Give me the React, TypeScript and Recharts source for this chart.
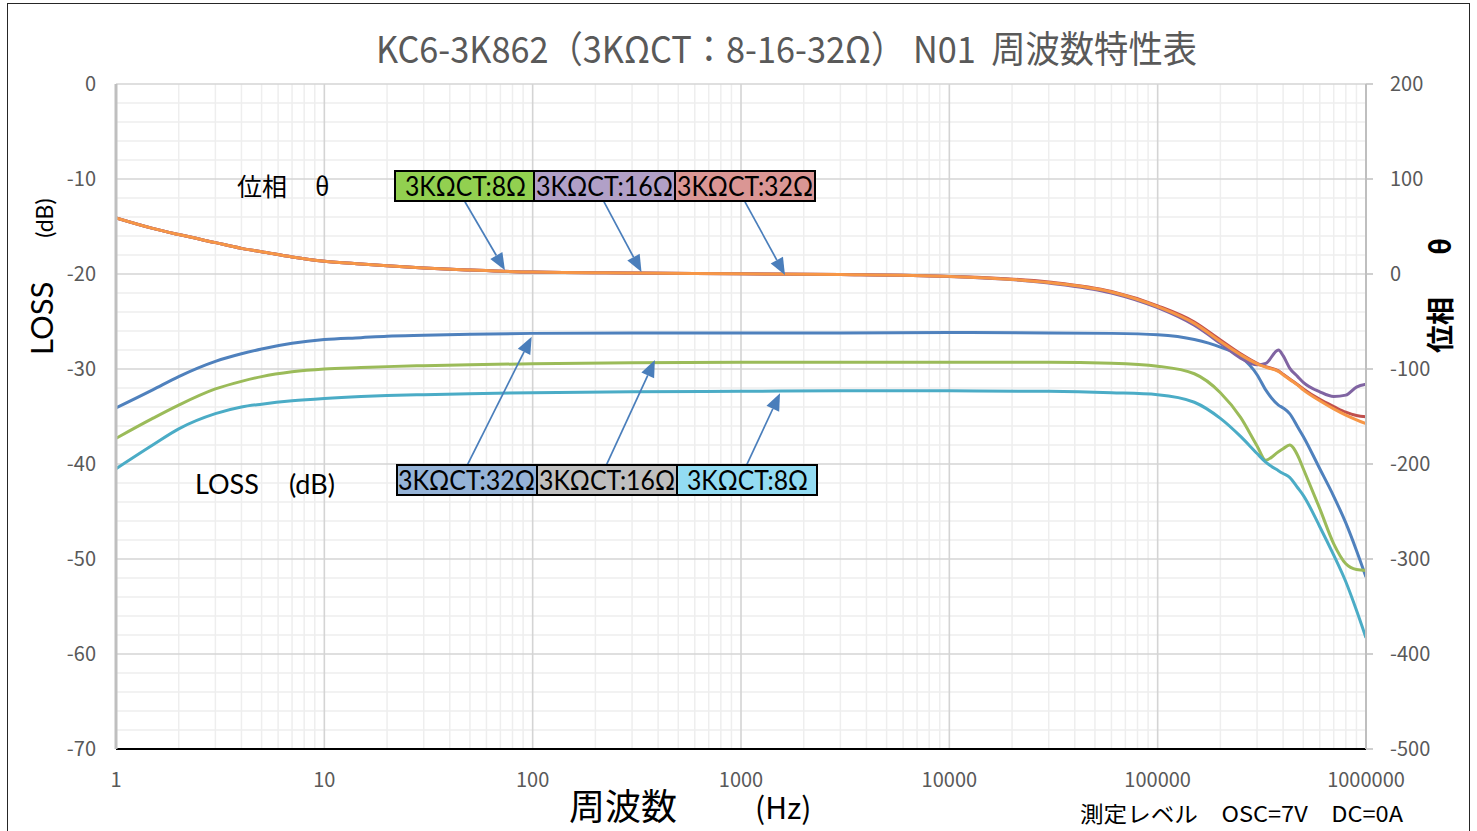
import { LineChart, Line, XAxis, YAxis, CartesianGrid, ReferenceLine } from 'recharts';

// frequency points (Hz) shared by every series
const FREQ = [
  1, 1.5, 2, 3, 4, 5, 7, 10, 15, 20, 30, 50, 100, 300, 1000, 3000, 10000,
  30000, 60000, 100000, 150000, 200000, 250000, 300000, 330000, 380000,
  400000, 430000, 470000, 500000, 600000, 700000, 800000, 900000, 1000000,
];

// LOSS (dB), left axis
const LOSS_32 = [
  -34.1, -32.2, -30.8, -29.2, -28.4, -27.9, -27.3, -26.9, -26.7, -26.55, -26.45,
  -26.35, -26.25, -26.2, -26.2, -26.2, -26.15, -26.2, -26.25, -26.4, -26.9,
  -27.7, -28.7, -30.6, -32.2, -33.8, -34.1, -34.7, -36.1, -37.1, -40.5, -43.4,
  -46.2, -49.1, -51.9,
];
const LOSS_16 = [
  -37.3, -35.2, -33.8, -32.1, -31.3, -30.8, -30.3, -30.0, -29.85, -29.75,
  -29.65, -29.55, -29.45, -29.35, -29.3, -29.3, -29.3, -29.3, -29.4, -29.7,
  -30.5, -32.5, -35.1, -38.1, -39.6, -38.7, -38.4, -38.0, -39.1, -40.5, -44.7,
  -48.4, -50.5, -51.1, -51.2,
];
const LOSS_8 = [
  -40.5, -38.0, -36.3, -34.7, -34.0, -33.7, -33.35, -33.1, -32.9, -32.8, -32.7,
  -32.6, -32.5, -32.4, -32.35, -32.3, -32.3, -32.35, -32.5, -32.7, -33.5, -35.2,
  -37.1, -38.9, -39.8, -40.7, -41.0, -41.4, -42.5, -43.3, -46.6, -49.6, -52.4,
  -55.4, -58.3,
];

// phase θ (deg), right axis
const PHASE_32 = [
  59, 48, 41.5, 33, 27, 23.5, 18, 13.5, 10.5, 8.6, 6.3, 4.2, 2, 1, 0.3, -0.5,
  -2.5, -8.5, -18.5, -33.5, -50.5, -69.5, -84, -94, -97.5, -102, -105.5,
  -110.5, -116.5, -121, -132, -139.5, -145.5, -149, -150.3,
];
const PHASE_16 = [
  59, 48, 41.5, 33, 27, 23.5, 18, 13.5, 10.5, 8.6, 6.3, 4.2, 2, 1, 0.3, -0.5,
  -2.6, -9.5, -20, -35.5, -54, -73, -88.5, -95.5, -94, -80, -86, -99, -108,
  -114, -124, -129, -127.5, -119, -116,
];
const PHASE_8 = [
  59, 48, 41.5, 33, 27, 23.5, 18, 13.5, 10.5, 8.6, 6.3, 4.2, 2, 1, 0.3, -0.5,
  -2.5, -9, -19, -34.4, -52, -71, -85, -94.5, -98, -102.5, -106, -111, -117,
  -122, -133.5, -142, -148.5, -153.5, -157.5,
];

const X_TICKS = [1, 10, 100, 1000, 10000, 100000, 1000000];
const LOSS_TICKS = [0, -10, -20, -30, -40, -50, -60, -70];
const PHASE_TICKS = [200, 100, 0, -100, -200, -300, -400, -500];

// annotation arrows, [from, to] in (Hz, dB)
const PHASE_ARROWS = [
  [[47.3, -12.4], [73.6, -19.6]],
  [[220, -12.4], [333, -19.8]],
  [[1045, -12.4], [1626, -20.1]],
];
const LOSS_ARROWS = [
  [[48.6, -40.1], [98.9, -26.6]],
  [[226, -40.1], [386, -29.05]],
  [[1065, -40.1], [1539, -32.56]],
];

const data = FREQ.map((f, i) => ({
  f,
  loss32: LOSS_32[i],
  loss16: LOSS_16[i],
  loss8: LOSS_8[i],
  ph32: PHASE_32[i],
  ph16: PHASE_16[i],
  ph8: PHASE_8[i],
}));

// grid values: majors on decades / 10 dB, minors on 2..9 x decade / 2 dB
const vMajor = X_TICKS;
const vMinor: number[] = [];
for (let d = 1; d < 1000000; d *= 10) for (let m = 2; m <= 9; m++) vMinor.push(d * m);
const hMajor = LOSS_TICKS;
const hMinor: number[] = [];
for (let v = -2; v > -70; v -= 2) if (v % 10 !== 0) hMinor.push(v);

const ARROW = '#4a7ebb';
const TICK = { fill: '#595959', fontSize: 20, fontFamily: '"Noto Sans CJK JP", "Noto Sans", sans-serif' };
const LATIN = 'Lato, "Open Sans", sans-serif';
const CJK = '"Noto Sans CJK JP", sans-serif';

const Arrow = (props: any) => {
  const { x1, y1, x2, y2 } = props;
  const a = Math.atan2(y2 - y1, x2 - x1);
  const len = 17;
  const half = 7;
  const bx = x2 - len * Math.cos(a);
  const by = y2 - len * Math.sin(a);
  const pts = `${x2},${y2} ${bx - half * Math.sin(a)},${by + half * Math.cos(a)} ${bx + half * Math.sin(a)},${by - half * Math.cos(a)}`;
  return (
    <g>
      <line x1={x1} y1={y1} x2={bx} y2={by} stroke={ARROW} strokeWidth={1.7} />
      <polygon points={pts} fill={ARROW} />
    </g>
  );
};

function LabelBox({ x, y, cells }: { x: number; y: number; cells: { w: number; fill: string; text: string; pad: number; tl: number }[] }) {
  let cx = x;
  return (
    <g>
      {cells.map((c, i) => {
        const gx = cx;
        cx += c.w;
        return (
          <g key={i}>
            <rect x={gx} y={y} width={c.w} height={30} fill={c.fill} stroke="#000" strokeWidth={2} />
            <text
              x={gx + c.pad}
              y={y + 25}
              fontSize={26}
              fontFamily={LATIN}
              fill="#000"
              textLength={c.tl}
              lengthAdjust="spacingAndGlyphs"
            >
              {c.text}
            </text>
          </g>
        );
      })}
    </g>
  );
}

export default function App() {
  return (
    <div style={{ position: 'absolute', left: 0, top: 0, width: 1477, height: 831, overflow: 'hidden', background: '#fff' }}>
      <div style={{ position: 'absolute', left: 7, top: 3, width: 1461, height: 860, border: '1px solid #262626' }} />
      <div style={{ position: 'absolute', left: 0, top: 0 }}>
        <LineChart width={1477} height={831} data={data} margin={{ top: 84, right: 31, bottom: 42, left: 36 }}>
          <CartesianGrid
            yAxisId="left"
            horizontalValues={hMinor}
            verticalValues={vMinor}
            stroke="#eeeeee"
            strokeWidth={1.5}
          />
          <CartesianGrid
            yAxisId="left"
            horizontalValues={hMajor}
            verticalValues={vMajor}
            stroke="#d4d4d4"
            strokeWidth={1.6}
          />
          <XAxis
            dataKey="f"
            type="number"
            scale="log"
            domain={[1, 1000000]}
            ticks={X_TICKS}
            tickFormatter={(v) => String(v)}
            allowDataOverflow
            height={40}
            tickLine={false}
            tickSize={6}
            tickMargin={18}
            axisLine={{ stroke: '#000', strokeWidth: 2 }}
            tick={TICK}
            interval={0}
          />
          <YAxis
            yAxisId="left"
            orientation="left"
            domain={[-70, 0]}
            ticks={LOSS_TICKS}
            width={80}
            tickLine={false}
            tickSize={6}
            tickMargin={14}
            axisLine={{ stroke: '#bfbfbf', strokeWidth: 3 }}
            tick={TICK}
            interval={0}
          />
          <YAxis
            yAxisId="right"
            orientation="right"
            domain={[-500, 200]}
            ticks={PHASE_TICKS}
            width={80}
            tickLine={{ stroke: '#bfbfbf', strokeWidth: 1.5 }}
            tickSize={7}
            tickMargin={17}
            axisLine={{ stroke: '#bfbfbf', strokeWidth: 2 }}
            tick={{ ...TICK, textAnchor: 'start' }}
            interval={0}
          />
          <Line yAxisId="left" dataKey="loss32" type="monotone" stroke="#4f81bd" strokeWidth={3} dot={false} isAnimationActive={false} />
          <Line yAxisId="right" dataKey="ph32" type="monotone" stroke="#c0504d" strokeWidth={3} dot={false} isAnimationActive={false} />
          <Line yAxisId="left" dataKey="loss16" type="monotone" stroke="#9bbb59" strokeWidth={3} dot={false} isAnimationActive={false} />
          <Line yAxisId="right" dataKey="ph16" type="monotone" stroke="#8064a2" strokeWidth={3} dot={false} isAnimationActive={false} />
          <Line yAxisId="left" dataKey="loss8" type="monotone" stroke="#4bacc6" strokeWidth={3} dot={false} isAnimationActive={false} />
          <Line yAxisId="right" dataKey="ph8" type="monotone" stroke="#f79646" strokeWidth={3} dot={false} isAnimationActive={false} />
          {[...PHASE_ARROWS, ...LOSS_ARROWS].map(([a, b], i) => (
            <ReferenceLine
              key={i}
              yAxisId="left"
              segment={[{ x: a[0], y: a[1] }, { x: b[0], y: b[1] }]}
              shape={Arrow}
              ifOverflow="visible"
            />
          ))}
        </LineChart>
      </div>

      <svg width={1477} height={831} style={{ position: 'absolute', left: 0, top: 0, pointerEvents: 'none' }}>
        {/* title */}
        <text x={376} y={63} fontSize={37} fontFamily={CJK} fill="#595959" textLength={821} lengthAdjust="spacingAndGlyphs">
          {'KC6-3K862（3KΩCT：8-16-32Ω） N01\u00a0\u00a0周波数特性表'}
        </text>

        {/* axis titles */}
        <text transform="translate(53,355) rotate(-90)" fill="#000" fontFamily={LATIN}>
          <tspan fontSize={31}>LOSS</tspan>
          <tspan fontSize={23} dx={44}>(dB)</tspan>
        </text>
        <text transform="translate(1451,353) rotate(-90)" fill="#000" fontFamily={CJK} fontSize={28} fontWeight={700}>
          <tspan>位相</tspan>
          <tspan dx={42}>θ</tspan>
        </text>
        <text x={569} y={820} fontSize={36} fontFamily={CJK} fill="#000">周波数</text>
        <text x={755} y={819} fontSize={30} fontFamily={CJK} fill="#000">(Hz)</text>
        <text x={1080} y={822} fontSize={22} fontFamily={CJK} fill="#000" textLength={323} lengthAdjust="spacingAndGlyphs">
          測定レベル　OSC=7V　DC=0A
        </text>

        {/* in-plot labels */}
        <text x={237} y={196} fontSize={25} fontFamily={CJK} fill="#000">
          <tspan>位相</tspan>
          <tspan dx={28}>θ</tspan>
        </text>
        <text x={195} y={494} fontSize={27} fontFamily={LATIN} fill="#000">
          <tspan>LOSS</tspan>
          <tspan dx={30}>(dB)</tspan>
        </text>

        <LabelBox
          x={395}
          y={171}
          cells={[
            { w: 139, fill: '#92d050', text: '3KΩCT:8Ω', pad: 10, tl: 121 },
            { w: 141, fill: '#b1a0c7', text: '3KΩCT:16Ω', pad: 2, tl: 137 },
            { w: 140, fill: '#da9694', text: '3KΩCT:32Ω', pad: 2, tl: 136 },
          ]}
        />
        <LabelBox
          x={397}
          y={465}
          cells={[
            { w: 140, fill: '#95b3d7', text: '3KΩCT:32Ω', pad: 1, tl: 137 },
            { w: 140, fill: '#bfbfbf', text: '3KΩCT:16Ω', pad: 2, tl: 136 },
            { w: 140, fill: '#93dcf3', text: '3KΩCT:8Ω', pad: 10, tl: 121 },
          ]}
        />
      </svg>
    </div>
  );
}
